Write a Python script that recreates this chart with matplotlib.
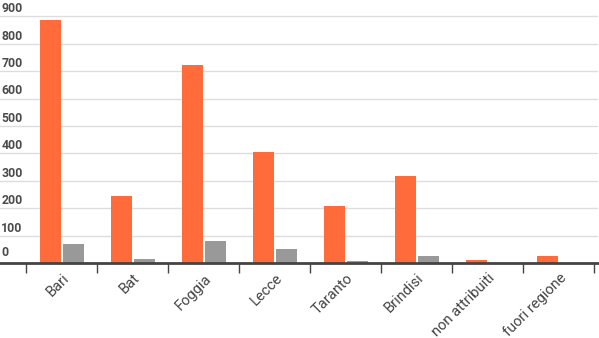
import matplotlib
matplotlib.use("Agg")
from matplotlib import pyplot as plt
import numpy as np

# dati
province = ["Bari", "Bat", "Foggia", "Lecce", "Taranto", "Brindisi",
            "non attribuiti", "fuori regione"]
serie_arancio = [886, 244, 722, 404, 209, 318, 11, 28]
serie_grigio = [69, 16, 81, 51, 8, 27, 0, 0]
yticks = [0, 100, 200, 300, 400, 500, 600, 700, 800, 900]

plt.rcParams['font.family'] = ['Roboto', 'DejaVu Sans']

fig = plt.figure(figsize=(5.99, 3.38), dpi=100)
ax = fig.add_axes([0, 0.221, 598 / 599, 0.779])

x = np.arange(len(province))
w = 0.296
gap = 0.028
ax.bar(x - (w + gap) / 2, serie_arancio, width=w, color="#ff6b3a", zorder=3)
ax.bar(x + (w + gap) / 2, serie_grigio, width=w, color="#999999", zorder=3)

ax.set_xlim(-0.870, 7.55)
ax.set_ylim(0, 959)

for s in ["top", "right", "left"]:
    ax.spines[s].set_visible(False)
ax.spines["bottom"].set_color("#444444")
ax.spines["bottom"].set_linewidth(2)
ax.spines["bottom"].set_zorder(4)

# griglia orizzontale
for v in yticks[1:]:
    ax.axhline(v, color="#dddddd", lw=1, zorder=1)
ax.set_yticks([])
for v in yticks:
    pad = 15 if v else 28
    ax.text(0.002, v + pad, str(v), transform=ax.get_yaxis_transform(),
            ha="left", va="baseline", fontsize=8.8, color="#4a4a4a",
            fontweight="bold")

# tacche ai bordi delle categorie
ax.set_xticks(np.arange(-0.5, len(province), 1))
ax.set_xticklabels([])
ax.tick_params(axis="x", which="major", length=7, width=1, color="#444444",
               direction="out")

# etichette ruotate
for i, nome in enumerate(province):
    ax.text(i + 0.0, -0.03, nome, transform=ax.get_xaxis_transform(),
            rotation=45, ha="right", va="top", rotation_mode="anchor",
            fontsize=10.5, color="#444444")

fig.savefig("out.png", dpi=100)
